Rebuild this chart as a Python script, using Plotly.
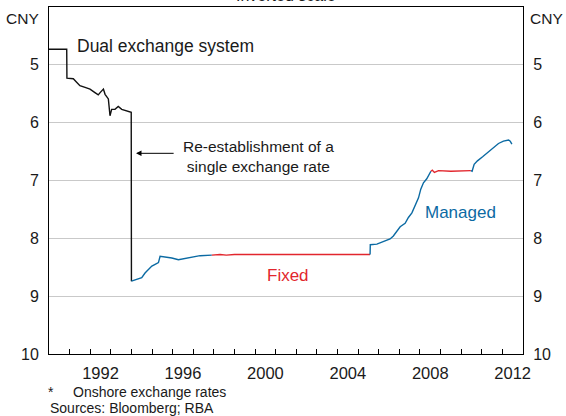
import plotly.graph_objects as go

# ---------------- data (decimal years, CNY per USD) ----------------
dual_x = [1990.0, 1990.86, 1990.87, 1991.18, 1991.34, 1991.50, 1991.75, 1991.99,
          1992.23, 1992.39, 1992.48, 1992.64, 1992.72, 1992.88, 1992.96, 1993.04,
          1993.20, 1993.36, 1993.53, 1993.77, 1993.99, 1994.0]
dual_y = [4.73, 4.73, 5.23, 5.24, 5.30, 5.36, 5.39, 5.42,
          5.48, 5.52, 5.48, 5.42, 5.51, 5.59, 5.88, 5.77,
          5.77, 5.72, 5.77, 5.80, 5.82, 8.74]

managed1_x = [1994.0, 1994.26, 1994.50, 1994.66, 1994.82, 1994.99, 1995.15, 1995.31,
              1995.39, 1995.63, 1995.96, 1996.28, 1996.68, 1997.0, 1997.33, 1997.9]
managed1_y = [8.74, 8.71, 8.68, 8.60, 8.54, 8.48, 8.45, 8.42,
              8.31, 8.32, 8.34, 8.37, 8.34, 8.32, 8.30, 8.29]

fixed1_x = [1997.9, 1998.3, 1998.6, 1999.0, 2005.58]
fixed1_y = [8.29, 8.28, 8.29, 8.28, 8.28]

managed2_x = [2005.58, 2005.59, 2005.91, 2006.23, 2006.55, 2006.71, 2006.88, 2007.04,
              2007.28, 2007.44, 2007.61, 2007.77, 2007.93, 2008.04, 2008.17, 2008.33,
              2008.46, 2008.53]
managed2_y = [8.28, 8.11, 8.10, 8.05, 8.01, 7.96, 7.88, 7.80,
              7.74, 7.64, 7.56, 7.44, 7.30, 7.15, 7.04, 6.97,
              6.89, 6.84]

fixed2_x = [2008.53, 2008.6, 2008.7, 2008.9, 2009.5, 2010.0, 2010.47]
fixed2_y = [6.84, 6.82, 6.86, 6.83, 6.84, 6.83, 6.83]

managed3_x = [2010.47, 2010.53, 2010.63, 2010.79, 2011.04, 2011.28, 2011.57, 2011.81,
              2012.05, 2012.30, 2012.38, 2012.46]
managed3_y = [6.83, 6.84, 6.72, 6.66, 6.59, 6.52, 6.43, 6.36,
              6.32, 6.30, 6.32, 6.37]

year_labels = ["1992", "1996", "2000", "2004", "2008", "2012"]
year_label_pos = [1992.5, 1996.5, 2000.5, 2004.5, 2008.5, 2012.5]
year_ticks = list(range(1991, 2013))
y_ticks = [5, 6, 7, 8, 9, 10]

# ---------------- styling ----------------
FONT = "Liberation Sans, Arial, sans-serif"
TXT = "#1a1a1a"
BLACK = "#111111"
BLUE = "#0b6aa3"
RED = "#e2262d"
LW = 1.4

fig = go.Figure()

def add_line(x, y, color):
    fig.add_trace(go.Scatter(x=x, y=y, mode="lines",
                             line=dict(color=color, width=LW),
                             hoverinfo="skip", showlegend=False))

add_line(dual_x, dual_y, BLACK)
add_line(managed1_x, managed1_y, BLUE)
add_line(fixed1_x, fixed1_y, RED)
add_line(managed2_x, managed2_y, BLUE)
add_line(fixed2_x, fixed2_y, RED)
add_line(managed3_x, managed3_y, BLUE)

# dummy trace so the right-hand axis is drawn
fig.add_trace(go.Scatter(x=[None], y=[None], yaxis="y2", mode="lines",
                         hoverinfo="skip", showlegend=False))

fig.update_layout(
    width=566, height=416,
    margin=dict(l=49, r=43, t=7, b=62),
    paper_bgcolor="white", plot_bgcolor="white",
    font=dict(family=FONT, color=TXT, size=16),
    xaxis=dict(
        range=[1990, 2013], showgrid=False, zeroline=False,
        showline=True, linecolor="black", linewidth=1, mirror=True,
        tickmode="array", tickvals=year_label_pos, ticktext=year_labels,
        ticks="", tickfont=dict(size=16.5), ticklabelstandoff=4,
        minor=dict(tickmode="array", tickvals=year_ticks, ticks="inside",
                   ticklen=5, tickcolor="black", tickwidth=1, showgrid=False),
    ),
    yaxis=dict(
        range=[10, 4], showgrid=True, gridcolor="#c9c9c9", gridwidth=1,
        zeroline=False, showline=True, linecolor="black", linewidth=1,
        tickmode="array", tickvals=y_ticks, ticks="", ticklabelstandoff=6,
        tickfont=dict(size=16),
    ),
    yaxis2=dict(
        range=[10, 4], overlaying="y", side="right", showgrid=False,
        zeroline=False, showline=True, linecolor="black", linewidth=1,
        tickmode="array", tickvals=y_ticks, ticks="", ticklabelstandoff=6,
        tickfont=dict(size=16),
    ),
)

ann = []
ann.append(dict(text="Inverted scale", xref="paper", yref="paper", x=0.5, y=1,
                xanchor="center", yanchor="bottom", yshift=1, showarrow=False,
                font=dict(size=16)))
ann.append(dict(text="CNY", xref="paper", yref="paper", x=0, y=1,
                xanchor="right", yanchor="middle", xshift=-8, yshift=-11,
                showarrow=False, font=dict(size=15.5)))
ann.append(dict(text="CNY", xref="paper", yref="paper", x=1, y=1,
                xanchor="left", yanchor="middle", xshift=5, yshift=-11,
                showarrow=False, font=dict(size=15.5)))
ann.append(dict(text="Dual exchange system", x=1991.26, y=4.67, xref="x", yref="y",
                xanchor="left", yanchor="middle", showarrow=False,
                font=dict(size=17.5)))
ann.append(dict(text="Re-establishment of a<br>single exchange rate",
                x=2000.17, y=6.58, xref="x", yref="y", xanchor="center",
                yanchor="middle", showarrow=False, font=dict(size=15.5)))
ann.append(dict(text="", x=1994.22, y=6.53, ax=1996.12, ay=6.53,
                xref="x", yref="y", axref="x", ayref="y", showarrow=True,
                arrowhead=2, arrowsize=1.1, arrowwidth=1, arrowcolor="black"))
ann.append(dict(text="Managed", x=2009.99, y=7.56, xref="x", yref="y",
                xanchor="center", yanchor="middle", showarrow=False,
                font=dict(size=17, color=BLUE)))
ann.append(dict(text="Fixed", x=2001.58, y=8.645, xref="x", yref="y",
                xanchor="center", yanchor="middle", showarrow=False,
                font=dict(size=17, color=RED)))
ann.append(dict(text="*", xref="paper", yref="paper", x=0, y=0,
                xanchor="left", yanchor="middle", xshift=-3, yshift=-38,
                showarrow=False, font=dict(size=14)))
ann.append(dict(text="Onshore exchange rates", xref="paper", yref="paper", x=0, y=0,
                xanchor="left", yanchor="middle", xshift=22, yshift=-38,
                showarrow=False, font=dict(size=14)))
ann.append(dict(text="Sources: Bloomberg; RBA", xref="paper", yref="paper", x=0, y=0,
                xanchor="left", yanchor="middle", xshift=-1, yshift=-54,
                showarrow=False, font=dict(size=14)))
fig.update_layout(annotations=ann)

fig.write_html("out.html",
               config={"displayModeBar": False},
               post_script="document.body.style.margin='0px';"
                           "document.body.style.overflow='hidden';")
